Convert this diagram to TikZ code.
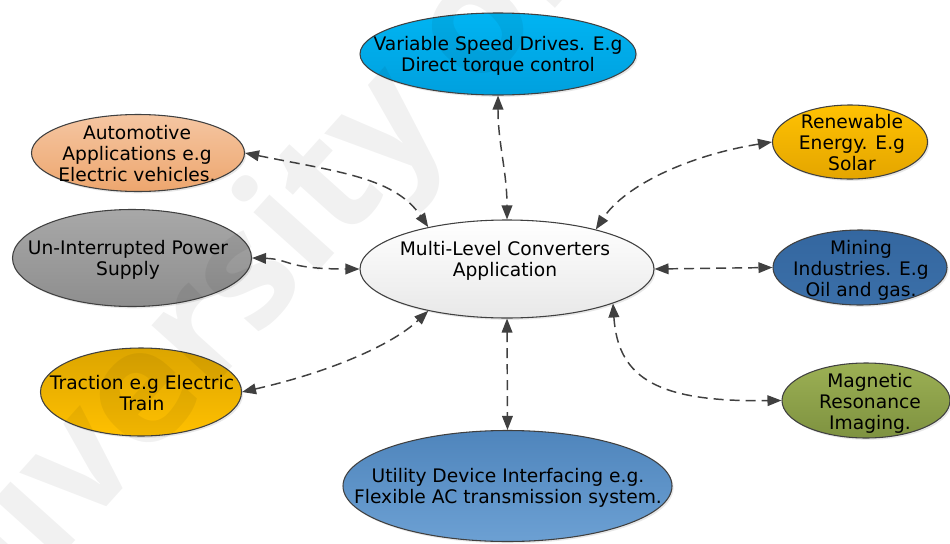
\documentclass[tikz,border=0pt]{standalone}
\usepackage{fontspec}
\setmainfont{DejaVu Sans}
\newfontfamily\wmfont{Open Sans}
\usetikzlibrary{shapes.geometric,arrows.meta,shadows}

\definecolor{edge}{HTML}{404040}
\definecolor{vsdA}{HTML}{00B4F2}\definecolor{vsdB}{HTML}{00A0DE}
\definecolor{autoA}{HTML}{F5C6A2}\definecolor{autoB}{HTML}{EDA66E}
\definecolor{upsA}{HTML}{A8A8A8}\definecolor{upsB}{HTML}{8E8E8E}
\definecolor{traA}{HTML}{DCA500}\definecolor{traB}{HTML}{FFC000}
\definecolor{utlA}{HTML}{4F85BC}\definecolor{utlB}{HTML}{6CA0D3}
\definecolor{renA}{HTML}{FFC202}\definecolor{renB}{HTML}{E4A500}
\definecolor{minA}{HTML}{3467A0}\definecolor{minB}{HTML}{3B6FA8}
\definecolor{mriA}{HTML}{9CB054}\definecolor{mriB}{HTML}{7E9240}

\begin{document}
\begin{tikzpicture}[x=0.75pt,y=-0.75pt,
  bubble/.style={ellipse, draw=edge, line width=0.8pt, inner sep=0pt,
    drop shadow={opacity=0.18, shadow xshift=1.2pt, shadow yshift=-1.4pt}},
  lbl/.style={align=center, inner sep=0pt, font=\fontsize{14}{15.75}\selectfont},
  tip/.tip={Triangle[length=10.5pt,width=8pt]},
  conn/.style={draw=edge, line width=1.1pt, dash pattern=on 7.5pt off 4.5pt, tip-tip},
  wm/.style={font=\wmfont\bfseries\fontsize{120}{120}\selectfont, text=black, text opacity=0.055, inner sep=0pt}
]
\fill[white] (0,0) rectangle (950,543);
\useasboundingbox (0,0) rectangle (950,543);

% ellipses
\node[bubble, minimum width=220.5pt, minimum height=73.5pt, top color=white, bottom color=black!9] (mlc) at (507,269) {};
\node[bubble, minimum width=207pt, minimum height=61.5pt, top color=vsdA, bottom color=vsdB] (vsd) at (498,54) {};
\node[bubble, minimum width=159.75pt, minimum height=57.75pt, top color=autoA, bottom color=autoB] (auto) at (138,153) {};
\node[bubble, minimum width=179.25pt, minimum height=72.75pt, top color=upsA, bottom color=upsB] (ups) at (132,258) {};
\node[bubble, minimum width=150.75pt, minimum height=66pt, top color=traA, bottom color=traB] (tra) at (141,392) {};
\node[bubble, minimum width=246.75pt, minimum height=83.25pt, top color=utlA, bottom color=utlB] (utl) at (507.5,486) {};
\node[bubble, minimum width=116.25pt, minimum height=55.5pt, top color=renA, bottom color=renB] (ren) at (850,142) {};
\node[bubble, minimum width=130.5pt, minimum height=56.25pt, top color=minA, bottom color=minB] (min) at (860,267.5) {};
\node[bubble, minimum width=126pt, minimum height=56.25pt, top color=mriA, bottom color=mriB] (mri) at (866,400.5) {};

% texts
\node[lbl] (mlc-t) at (505,261) {Multi-Level Converters\\Application};
\node[lbl] (vsd-t) at (498,56) {Variable Speed Drives. E.g\\Direct torque control};
\node[lbl] (auto-t) at (137,154) {Automotive\\Applications e.g\\Electric vehicles.};
\node[lbl] (ups-t) at (128,260) {Un-Interrupted Power\\Supply};
\node[lbl] (tra-t) at (142,393) {Traction e.g Electric\\Train};
\node[lbl] (utl-t) at (508,488) {Utility Device Interfacing e.g.\\Flexible AC transmission system.};
\node[lbl] (ren-t) at (852,143) {Renewable\\Energy. E.g\\Solar};
\node[lbl] (min-t) at (861,270) {Mining\\Industries. E.g\\Oil and gas.};
\node[lbl] (mri-t) at (870,403) {Magnetic\\Resonance\\Imaging.};

% connectors
\draw[conn] (vsd.south) to[out=-90,in=90] (mlc.north);
\draw[conn] (auto.east) .. controls (340,172) and (395,178) .. (mlc.152);
\draw[conn] (ups.east) .. controls (290,259) and (285,269) .. (mlc.west);
\draw[conn] (tra.east) .. controls (330,372) and (392,345) .. (mlc.208);
\draw[conn] (mlc.south) -- (utl.north);
\draw[conn] (ren.west) .. controls (690,155) and (625,185) .. (mlc.24);
\draw[conn] (mlc.east) -- (min.west);
\draw[conn] (mlc.342) .. controls (618,380) and (660,402) .. (mri.west);

% watermark
\node[wm, rotate=48, anchor=base west] (wm) at (-100,736) {University of};
\end{tikzpicture}
\end{document}
